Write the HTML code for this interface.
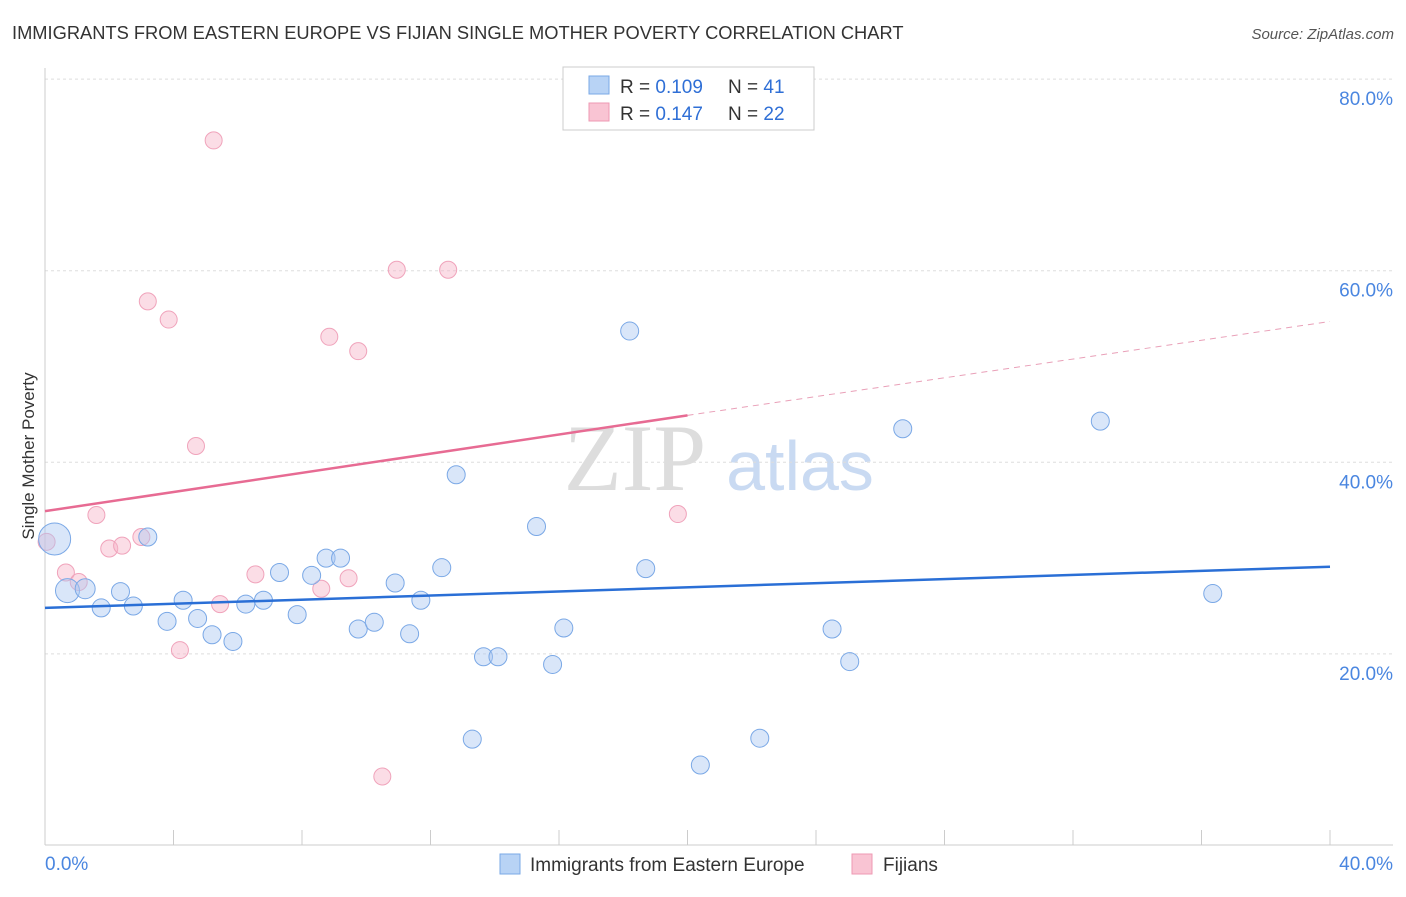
<!DOCTYPE html>
<html><head><meta charset="utf-8"><style>
body{margin:0;background:#fff;font-family:"Liberation Sans",sans-serif}
</style></head><body>
<svg width="1406" height="892" xmlns="http://www.w3.org/2000/svg" id="chart">
<text x="12" y="39" font-size="18.3" fill="#333">IMMIGRANTS FROM EASTERN EUROPE VS FIJIAN SINGLE MOTHER POVERTY CORRELATION CHART</text>
<text x="1394" y="39" font-size="15" fill="#555" text-anchor="end" font-style="italic">Source: ZipAtlas.com</text>
<text x="635" y="490" font-size="95" fill="#ddd" font-family="Liberation Serif" text-anchor="middle">ZIP</text>
<text x="800" y="490" font-size="70" fill="#c9daf2" text-anchor="middle">atlas</text>
<g id="grid"></g><g id="axes"></g><g id="marks"></g>
<text x="34" y="456" font-size="17" fill="#333" text-anchor="middle" transform="rotate(-90 34 456)">Single Mother Poverty</text>
<g>
<rect x="563" y="67" width="251" height="63" fill="#fff" stroke="#ccc"/>
<rect x="589" y="76" width="20" height="18" fill="#b8d3f5" stroke="#7aa8e6"/>
<rect x="589" y="103" width="20" height="18" fill="#f9c4d3" stroke="#ee99b3"/>
<text x="620" y="93" font-size="19" fill="#333">R = <tspan fill="#2f6fd6">0.109</tspan></text>
<text x="728" y="93" font-size="19" fill="#333">N =  <tspan fill="#2f6fd6">41</tspan></text>
<text x="620" y="120" font-size="19" fill="#333">R = <tspan fill="#2f6fd6">0.147</tspan></text>
<text x="728" y="120" font-size="19" fill="#333">N = <tspan fill="#2f6fd6">22</tspan></text>
</g>
<g>
<rect x="500" y="854" width="20" height="20" fill="#b8d3f5" stroke="#7aa8e6"/>
<text x="530" y="871" font-size="19" fill="#333">Immigrants from Eastern Europe</text>
<rect x="852" y="854" width="20" height="20" fill="#f9c4d3" stroke="#ee99b3"/>
<text x="883" y="871" font-size="19" fill="#333">Fijians</text>
</g>
</svg>
<script>
const yTicks=[20,40,60,80];
const xTickLabels=["0.0%","40.0%"];
const blueX=[0.3,0.7,1.25,1.75,2.35,2.75,3.2,3.8,4.3,4.75,5.2,5.85,6.25,6.8,7.3,7.85,8.3,8.75,9.2,9.75,10.25,10.9,11.35,11.7,12.35,12.8,13.3,13.65,14.1,15.3,15.8,16.15,18.2,18.7,20.4,22.25,24.5,25.05,26.7,32.85,36.35];
const blueY=[32.0,26.6,26.8,24.8,26.5,25.0,32.2,23.4,25.6,23.7,22.0,21.3,25.2,25.6,28.5,24.1,28.2,30.0,30.0,22.6,23.3,27.4,22.1,25.6,29.0,38.7,11.1,19.7,19.7,33.3,18.9,22.7,53.7,28.9,8.4,11.2,22.6,19.2,43.5,44.3,26.3];
const blueR=[16,12,10,9,9,9,9,9,9,9,9,9,9,9,9,9,9,9,9,9,9,9,9,9,9,9,9,9,9,9,9,9,9,9,9,9,9,9,9,9,9];
const pinkX=[0.05,0.65,1.05,1.6,2.0,2.4,3.0,3.2,3.85,4.2,4.7,5.25,5.45,6.55,8.6,8.85,9.45,9.75,10.5,10.95,12.55,19.7];
const pinkY=[31.7,28.5,27.5,34.5,31.0,31.3,32.2,56.8,54.9,20.4,41.7,73.6,25.2,28.3,26.8,53.1,27.9,51.6,7.2,60.1,60.1,34.6];
const blueTrend=[24.8,29.1];
const pinkTrend=[34.9,44.9,54.7];
const NS="http://www.w3.org/2000/svg";
const X=v=>45+v*32.125, Y=v=>845.5-v*9.58;
function mk(tag,attrs,parent){const e=document.createElementNS(NS,tag);for(const k in attrs)e.setAttribute(k,attrs[k]);document.getElementById(parent).appendChild(e);return e;}
yTicks.forEach(t=>{
 const l=mk('line',{x1:45,x2:1393,y1:Y(t),y2:Y(t),stroke:'#ddd','stroke-dasharray':'3,3'},'grid');
 
 
 const tx=mk('text',{x:1393,y:Y(t)+26,'font-size':19,fill:'#4a86e0','text-anchor':'end'},'grid');
 tx.textContent=t.toFixed(1)+'%';
 
 
});
mk('line',{x1:45,x2:45,y1:68,y2:845,stroke:'#ccc'},'axes');
mk('line',{x1:45,x2:1393,y1:845,y2:845,stroke:'#ccc'},'axes');
for(let i=0;i<=10;i++){mk('line',{x1:X(i*4),x2:X(i*4),y1:830,y2:845,stroke:'#ccc'},'axes');}
[[0,"start",45],[1,"end",1393]].forEach(([i,a,x])=>{const t=mk('text',{x:x,y:870,'font-size':19,fill:'#4a86e0','text-anchor':a},'axes');t.textContent=xTickLabels[i];
 
 });
pinkX.forEach((v,i)=>{const c=mk('circle',{cx:X(v),cy:Y(pinkY[i]),r:8.5,fill:'rgba(246,180,200,0.45)',stroke:'#f0a3bb','stroke-width':1},'marks');
 
 });
blueX.forEach((v,i)=>{const c=mk('circle',{cx:X(v),cy:Y(blueY[i]),r:blueR[i],fill:'rgba(170,200,242,0.45)',stroke:'#7aa8e6','stroke-width':1},'marks');
 
 });
let b=mk('line',{x1:X(0),y1:Y(blueTrend[0]),x2:X(40),y2:Y(blueTrend[1]),stroke:'#2a6fd6','stroke-width':2.5},'marks');


let p=mk('line',{x1:X(0),y1:Y(pinkTrend[0]),x2:X(20),y2:Y(pinkTrend[1]),stroke:'#e76b93','stroke-width':2.5},'marks');


let pd=mk('line',{x1:X(20),y1:Y(pinkTrend[1]),x2:X(40),y2:Y(pinkTrend[2]),stroke:'#e9a0b8','stroke-width':1,'stroke-dasharray':'6,5'},'marks');


</script>
</body></html>
